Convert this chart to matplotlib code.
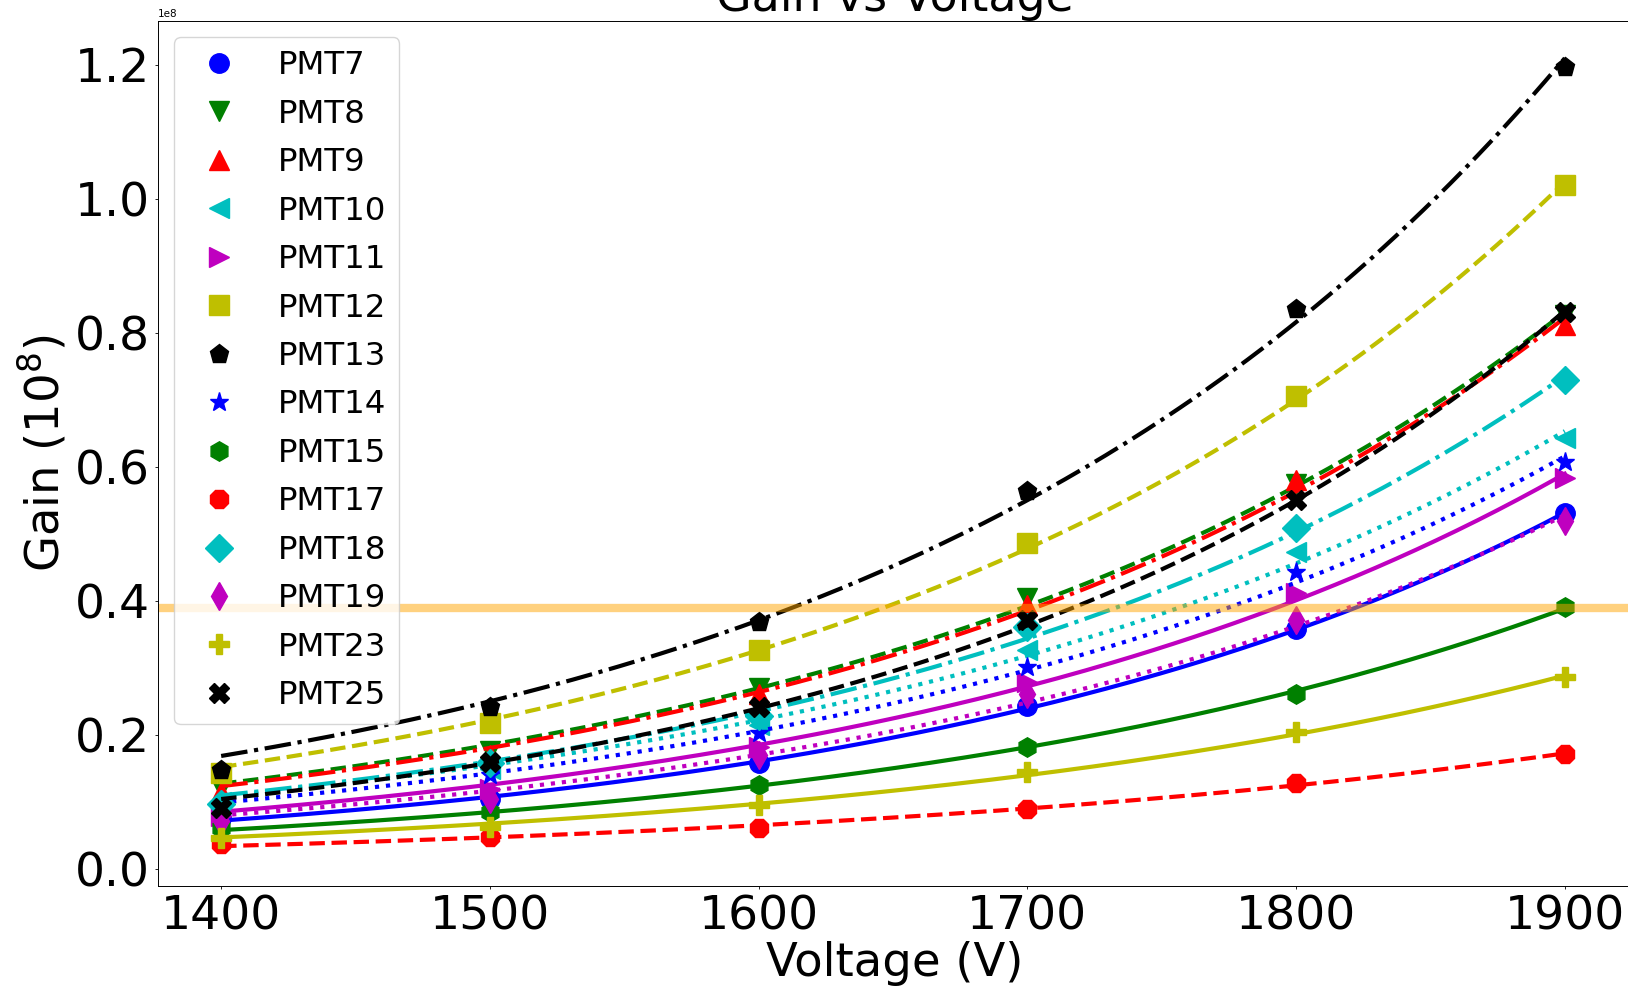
import numpy as np
import matplotlib
matplotlib.use("Agg")
import matplotlib.pyplot as plt

# 測定電圧 (V)
voltage = [1400, 1500, 1600, 1700, 1800, 1900]

# 各PMTのゲイン (単位 1e8)
gain_pmt7 = [0.076, 0.104, 0.158, 0.243, 0.358, 0.531]
gain_pmt8 = [0.121, 0.177, 0.270, 0.404, 0.575, 0.826]
gain_pmt9 = [0.115, 0.170, 0.262, 0.394, 0.580, 0.812]
gain_pmt10 = [0.100, 0.150, 0.215, 0.327, 0.473, 0.643]
gain_pmt11 = [0.080, 0.120, 0.182, 0.279, 0.412, 0.583]
gain_pmt12 = [0.143, 0.218, 0.327, 0.486, 0.706, 1.020]
gain_pmt13 = [0.148, 0.242, 0.368, 0.564, 0.836, 1.196]
gain_pmt14 = [0.090, 0.140, 0.203, 0.301, 0.443, 0.607]
gain_pmt15 = [0.062, 0.085, 0.125, 0.182, 0.262, 0.391]
gain_pmt17 = [0.038, 0.048, 0.061, 0.090, 0.128, 0.172]
gain_pmt18 = [0.098, 0.158, 0.228, 0.361, 0.509, 0.729]
gain_pmt19 = [0.072, 0.105, 0.170, 0.262, 0.372, 0.520]
gain_pmt23 = [0.047, 0.063, 0.096, 0.145, 0.205, 0.286]
gain_pmt25 = [0.091, 0.160, 0.242, 0.371, 0.550, 0.831]

pmt_names = ["PMT7", "PMT8", "PMT9", "PMT10", "PMT11", "PMT12", "PMT13",
             "PMT14", "PMT15", "PMT17", "PMT18", "PMT19", "PMT23", "PMT25"]
gains = [gain_pmt7, gain_pmt8, gain_pmt9, gain_pmt10, gain_pmt11, gain_pmt12,
         gain_pmt13, gain_pmt14, gain_pmt15, gain_pmt17, gain_pmt18,
         gain_pmt19, gain_pmt23, gain_pmt25]

ref_gain = 0.39  # 基準ライン (1e8)

colors = ['b', 'g', 'r', 'c', 'm', 'y', 'k']
markers = ['o', 'v', '^', '<', '>', 's', 'p', '*', 'h', '8', 'D', 'd', 'P', 'X']
linestyles = ['-', '--', '-.', ':']


def fit_exp(v, g):
    """G = A*exp(bV) を線形空間の最小二乗に近づけてフィット"""
    w = g.copy()
    for _ in range(10):
        b, a = np.polyfit(v, np.log(g), 1, w=w)
        w = np.exp(a + b * v)
    return a, b


fig = plt.figure(figsize=(16.28, 9.88), dpi=100)
ax = fig.add_axes([158 / 1628, 1 - 886 / 988, (1632 - 158) / 1628, (886 - 21) / 988])

v = np.array(voltage, dtype=float)
v_fit = np.linspace(1400, 1900, 200)

for i, (name, g) in enumerate(zip(pmt_names, gains)):
    g = np.array(g) * 1e8
    color = colors[i % len(colors)]
    ax.plot(v, g, linestyle='none', marker=markers[i], color=color,
            markersize=14, label=name)
    a, b = fit_exp(v, g)
    ax.plot(v_fit, np.exp(a + b * v_fit), linestyle=linestyles[i % 4],
            color=color, linewidth=3)

ax.axhline(ref_gain * 1e8, color='orange', alpha=0.5, linewidth=6)

ax.set_xlim(1376.5, 1925)
ax.set_ylim(-0.025e8, 1.265e8)
ax.set_xticks(voltage)
ax.set_yticks(np.arange(0, 1.21, 0.2) * 1e8)

# タイトルは元画像同様、上端で切れる
ax.set_title("Gain vs Voltage", fontsize=33)
ax.set_xlabel("Voltage (V)", fontsize=33.5, labelpad=1)
ax.set_ylabel("Gain (10$^8$)", fontsize=33.5)
ax.tick_params(labelsize=34, length=2.5, width=0.6)
ax.yaxis.get_offset_text().set_fontsize(7.5)
for s in ax.spines.values():
    s.set_linewidth(0.7)

ax.legend(loc='upper left', fontsize=23.3, labelspacing=0.54)

fig.savefig("out.png", dpi=100)
